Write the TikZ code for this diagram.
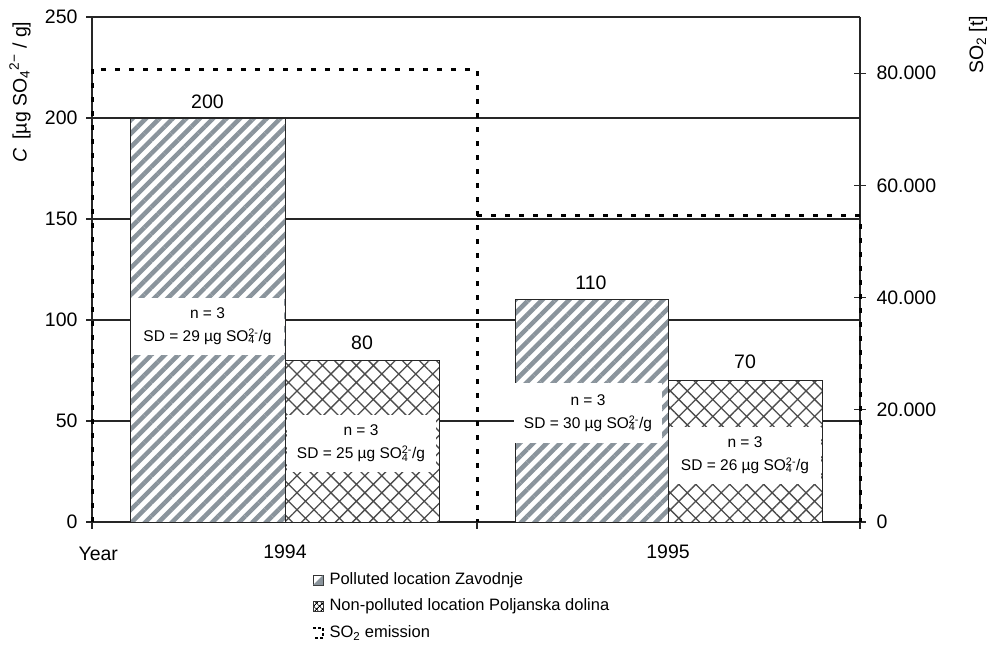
\documentclass[tikz,border=0pt]{standalone}
\usepackage{fontspec}
\setmainfont{Liberation Sans}
\usetikzlibrary{patterns.meta}
\definecolor{stripegray}{RGB}{138,148,156}
\newcommand{\sulfat}{SO\rlap{\textsubscript{4}}\textsuperscript{2-}}
\begin{document}
\begin{tikzpicture}[x=1pt,y=-1pt,
	axisfont/.style={font=\fontsize{19.5}{22}\selectfont},
	boxfont/.style={font=\fontsize{15.5}{23}\selectfont},
	legfont/.style={font=\fontsize{16.5}{20}\selectfont},
	polbar/.style={draw=black!85,line width=1pt,preaction={fill=white},pattern={Lines[angle=45,distance=9.5pt,line width=4.5pt]},pattern color=stripegray},
	nonpolbar/.style={draw=black!85,line width=1pt,preaction={fill=white},pattern={Hatch[angle=45,distance=12pt,line width=1.3pt]},pattern color=black!70},
	sdbox/.style={boxfont,fill=white,inner sep=0pt,align=center,minimum height=57pt},
	emission/.style={line width=3pt,dash pattern=on 5pt off 9pt},
	gridline/.style={line width=1.2pt,black!85}]
	\useasboundingbox (0,0) rectangle (991,654);
	\foreach \v in {50,100,...,250}
		\draw[gridline] (92,{522-2.02*\v}) -- (860,{522-2.02*\v});
	\foreach \v in {0,50,...,250}{
		\draw[gridline] (86,{522-2.02*\v}) -- (92,{522-2.02*\v});
		\node[axisfont,anchor=east] (c\v) at (81,{522-2.02*\v}) {\v};
	}
	\foreach \k/\t in {0/0,1/20.000,2/40.000,3/60.000,4/80.000}{
		\draw[gridline] (854,{522-112.2*\k}) -- (866,{522-112.2*\k});
		\node[axisfont,anchor=west] (s\k) at (873,{522-112.2*\k}) {\t};
	}
	\draw[gridline]
		(92,17) -- (92,529)
		(860,17) -- (860,529)
		(92,522) -- (860,522)
		(477,522) -- (477,529)
		;
	\draw[emission]
		(92,522) -- (92,69) -- (477,69) -- (477,522)
		(477,215) -- (860,215) -- (860,522)
		;
	\draw[polbar] (130,522) rectangle (285,118);
	\draw[nonpolbar] (285,522) rectangle (439,360.4);
	\draw[polbar] (515,522) rectangle (668,299.8);
	\draw[nonpolbar] (668,522) rectangle (822,380.6);
	\node[sdbox,minimum width=153pt] (sd94p) at (207.5,326) {n = 3\\SD = 29 µg \sulfat/g};
	\node[sdbox,minimum width=149pt] (sd94n) at (361,443.5) {n = 3\\SD = 25 µg \sulfat/g};
	\node[sdbox,minimum width=148pt,minimum height=60pt] (sd95p) at (588,413) {n = 3\\SD = 30 µg \sulfat/g};
	\node[sdbox,minimum width=152pt] (sd95n) at (745,455) {n = 3\\SD = 26 µg \sulfat/g};
	\node[axisfont] (v94p) at (207.5,102) {200};
	\node[axisfont] (v94n) at (362,343) {80};
	\node[axisfont] (v95p) at (591,283) {110};
	\node[axisfont] (v95n) at (745,362) {70};
	\node[axisfont,anchor=west] (year) at (75,554) {Year};
	\node[axisfont] (y94) at (285,552) {1994};
	\node[axisfont] (y95) at (668,552) {1995};
	\node[axisfont,rotate=90] (ylab) at (20,92) {\textit{C} \,[µg SO\textsubscript{4}\textsuperscript{2−} / g]};
	\node[axisfont,rotate=90] (slab) at (978,45) {SO\textsubscript{2} [t]};
	\draw[black!80,line width=0.8pt] (313,575) rectangle (323,585);
	\fill[stripegray] (323,575) -- (323,585) -- (313,585) -- cycle;
	\draw[black!80,line width=0.8pt,pattern={Hatch[angle=45,distance=4pt,line width=0.8pt]}] (313,601) rectangle (323,611);
	\draw[line width=2pt,dash pattern=on 3pt off 2pt] (313,628) -- (323,628) -- (323,638) -- (313,638);
	\node[legfont,anchor=west] (leg1) at (326,580) {Polluted location Zavodnje};
	\node[legfont,anchor=west] (leg2) at (326,606) {Non-polluted location Poljanska dolina};
	\node[legfont,anchor=west] (leg3) at (326,633) {SO\textsubscript{2} emission};
\end{tikzpicture}
\end{document}
